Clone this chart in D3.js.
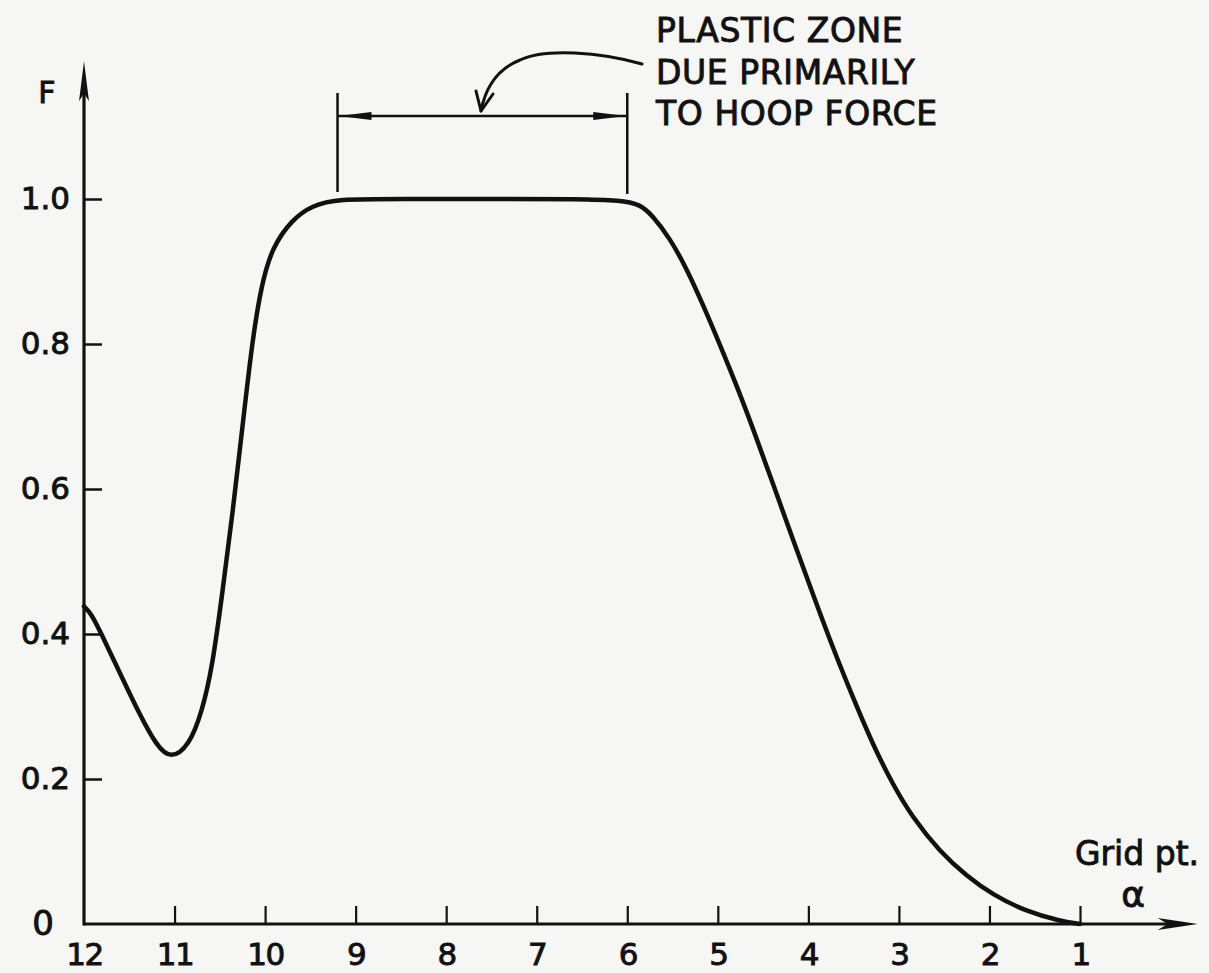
<!DOCTYPE html>
<html>
<head>
<meta charset="utf-8">
<script src="https://cdn.jsdelivr.net/npm/d3@7"></script>
<style>
  html, body { margin: 0; padding: 0; background: #f6f6f4; }
  svg { display: block; }
  text { font-family: "DejaVu Sans", sans-serif; fill: #111; stroke: #111; stroke-width: 0.9px; }
</style>
</head>
<body>
<script>
// ---- data ----
const gridPts = [12, 11.92, 11.83, 11.61, 11.39, 11.20, 11.04, 10.84, 10.70, 10.58, 10.47, 10.36, 10.25, 10.14, 10.04, 9.92, 9.70, 9.48, 9.21, 8.5, 7.5, 6.5, 6.08, 5.86, 5.72, 5.53, 5.34, 5.16, 4.98, 4.79, 4.61, 4.39, 4.17, 3.95, 3.73, 3.51, 3.29, 3.07, 2.85, 2.55, 2.25, 1.96, 1.59, 1.22, 1.0];
const fValues = [0.438, 0.428, 0.406, 0.348, 0.290, 0.246, 0.227, 0.246, 0.291, 0.356, 0.459, 0.565, 0.686, 0.806, 0.882, 0.934, 0.972, 0.991, 1.0, 1.0, 1.0, 1.0, 0.998, 0.993, 0.977, 0.946, 0.903, 0.853, 0.800, 0.742, 0.683, 0.607, 0.530, 0.455, 0.381, 0.313, 0.248, 0.193, 0.147, 0.100, 0.066, 0.040, 0.017, 0.004, 0.0];
const xTickValues = [12, 11, 10, 9, 8, 7, 6, 5, 4, 3, 2, 1];
const xTickLabels = ["12", "11", "10", "9", "8", "7", "6", "5", "4", "3", "2", "1"];
const yTickValues = [0, 0.2, 0.4, 0.6, 0.8, 1.0];
const yTickLabels = ["0", "0.2", "0.4", "0.6", "0.8", "1.0"];
const zoneRange = [9.2, 6.0];
const noteLines = ["PLASTIC ZONE", "DUE PRIMARILY", "TO HOOP FORCE"];
const yAxisTitle = "F";
const xAxisTitle = ["Grid pt.", "α"];

// ---- layout ----
const W = 1209, H = 973;
const svg = d3.select("body").append("svg").attr("width", W).attr("height", H);
const x = d3.scaleLinear().domain([12, 1]).range([84, 1080]);
const y = d3.scaleLinear().domain([0, 1]).range([924, 199]);
const ink = "#111";

// x axis
const xAxis = d3.axisBottom(x)
  .tickValues(xTickValues)
  .tickFormat((d, i) => xTickLabels[i])
  .tickSizeInner(-18).tickSizeOuter(0).tickPadding(19);
const gx = svg.append("g").attr("transform", `translate(0,${y(0)})`).call(xAxis);
gx.select(".domain").remove();
gx.selectAll(".tick line").attr("stroke", ink).attr("stroke-width", 2.2);
gx.selectAll(".tick").filter(d => d === 12).select("line").remove();
gx.selectAll(".tick text").attr("font-size", 31).attr("letter-spacing", -1.5).attr("fill", ink)
  .style("font-family", '"DejaVu Sans", sans-serif');

// y axis
const yAxis = d3.axisLeft(y)
  .tickValues(yTickValues)
  .tickFormat((d, i) => yTickLabels[i])
  .tickSizeInner(-18).tickSizeOuter(0).tickPadding(14);
const gy = svg.append("g").attr("transform", `translate(${x(12)},0)`).call(yAxis);
gy.select(".domain").remove();
gy.selectAll(".tick line").attr("stroke", ink).attr("stroke-width", 2.5);
gy.selectAll(".tick text").attr("font-size", 31).attr("fill", ink)
  .style("font-family", '"DejaVu Sans", sans-serif');
const zeroTick = gy.selectAll(".tick").filter(d => d === 0);
zeroTick.select("line").remove();
zeroTick.select("text").attr("x", -30).attr("font-size", 34).attr("dy", "0.32em");

// axis lines with arrows
const x0 = x(12), y0 = y(0);
const xEnd = x(-0.3), yTop = y(1.19);
svg.append("line").attr("x1", x0).attr("y1", y0).attr("x2", xEnd - 20).attr("y2", y0)
  .attr("stroke", ink).attr("stroke-width", 3.2);
svg.append("path")
  .attr("d", `M${xEnd},${y0} L${xEnd - 40},${y0 - 6} L${xEnd - 30},${y0} L${xEnd - 40},${y0 + 6} Z`)
  .attr("fill", ink);
svg.append("line").attr("x1", x0).attr("y1", y0 + 1.5).attr("x2", x0).attr("y2", yTop + 20)
  .attr("stroke", ink).attr("stroke-width", 3.2);
svg.append("path")
  .attr("d", `M${x0},${yTop} L${x0 - 5},${yTop + 40} L${x0},${yTop + 32} L${x0 + 5},${yTop + 40} Z`)
  .attr("fill", ink);

// axis titles
svg.append("text").attr("x", 47).attr("y", 103).attr("text-anchor", "middle")
  .attr("font-size", 30).text(yAxisTitle);
svg.append("text").attr("x", 1137).attr("y", 865).attr("text-anchor", "middle")
  .attr("font-size", 33).text(xAxisTitle[0]);
svg.append("text").attr("x", 1133).attr("y", 907).attr("text-anchor", "middle")
  .attr("font-size", 36).text(xAxisTitle[1]);

// curve
const pts = gridPts.map((g, i) => [g, fValues[i]]);
const line = d3.line().x(d => x(d[0])).y(d => y(d[1])).curve(d3.curveBasis);
svg.append("path").datum(pts).attr("d", line)
  .attr("fill", "none").attr("stroke", ink).attr("stroke-width", 4.5)
  .attr("stroke-linejoin", "round").attr("stroke-linecap", "round");

// plastic zone bracket
const zx1 = x(zoneRange[0]), zx2 = x(zoneRange[1]);
const barTop = 93, barBot = 192, barY = 116;
svg.append("line").attr("x1", zx1).attr("x2", zx1).attr("y1", barTop).attr("y2", barBot)
  .attr("stroke", ink).attr("stroke-width", 2.5);
svg.append("line").attr("x1", zx2).attr("x2", zx2).attr("y1", barTop).attr("y2", barBot + 2)
  .attr("stroke", ink).attr("stroke-width", 2.5);
svg.append("line").attr("x1", zx1).attr("x2", zx2).attr("y1", barY).attr("y2", barY)
  .attr("stroke", ink).attr("stroke-width", 2.5);
svg.append("path")
  .attr("d", `M${zx1 + 1},${barY} L${zx1 + 34},${barY - 4} L${zx1 + 34},${barY + 4} Z`).attr("fill", ink);
svg.append("path")
  .attr("d", `M${zx2 - 1},${barY} L${zx2 - 34},${barY - 4} L${zx2 - 34},${barY + 4} Z`).attr("fill", ink);

// curved pointer arrow
const tipX = 481, tipY = 111;
svg.append("path")
  .attr("d", `M642,64 C600,52 545,48 520,60 C495,70 485,90 ${tipX},${tipY}`)
  .attr("fill", "none").attr("stroke", ink).attr("stroke-width", 3).attr("stroke-linecap", "round");
svg.append("path")
  .attr("d", `M${tipX - 5},${tipY - 20} L${tipX},${tipY} L${tipX + 12},${tipY - 17}`)
  .attr("fill", "none").attr("stroke", ink).attr("stroke-width", 3)
  .attr("stroke-linecap", "round").attr("stroke-linejoin", "round");

// note text
svg.append("g").selectAll("text").data(noteLines).join("text")
  .attr("x", 656).attr("y", (d, i) => 42 + i * 41.5)
  .attr("font-size", 33).attr("letter-spacing", 0.6).text(d => d);
</script>
</body>
</html>
